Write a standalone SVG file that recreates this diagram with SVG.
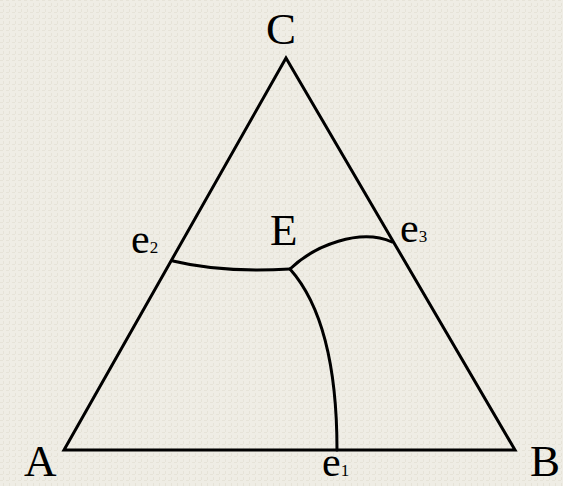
<svg xmlns="http://www.w3.org/2000/svg" width="563" height="486" viewBox="0 0 563 486">
  <style>
    .ln { fill: none; stroke: #000; stroke-width: 3; stroke-linejoin: miter; stroke-linecap: round; }
    .lbl { font-family: "Liberation Serif", "Times New Roman", serif; fill: #000; }
    .big { font-size: 45px; }
    .e { font-size: 42px; }
    .sub { font-size: 17px; }
  </style>
  <defs>
    <pattern id="tex" width="6" height="6" patternUnits="userSpaceOnUse">
      <rect width="6" height="6" fill="#EFEDE5"/>
      <rect x="0" y="0" width="3" height="1" fill="#E6E3D8"/>
      <rect x="3" y="3" width="1" height="3" fill="#E6E3D8"/>
    </pattern>
  </defs>
  <rect width="563" height="486" fill="url(#tex)"/>
  <g id="connectors">
    <path class="ln" d="M286,58 L64,450 L515,450 Z"/>
    <path class="ln" d="M173,261 Q222,273 290,269"/>
    <path class="ln" d="M290,269 C315,245 360,228 392,242"/>
    <path class="ln" d="M290,269 Q337,322 337,450"/>
  </g>
  <g id="node-C"><text class="lbl big" x="266" y="44">C</text></g>
  <g id="node-A"><text class="lbl big" x="24" y="476">A</text></g>
  <g id="node-B"><text class="lbl big" x="530" y="476">B</text></g>
  <g id="node-E"><text class="lbl big" x="270" y="245">E</text></g>
  <g id="node-e1"><text class="lbl e" x="322" y="476">e<tspan class="sub">1</tspan></text></g>
  <g id="node-e2"><text class="lbl e" x="131" y="253">e<tspan class="sub">2</tspan></text></g>
  <g id="node-e3"><text class="lbl e" x="400" y="242">e<tspan class="sub">3</tspan></text></g>
</svg>
